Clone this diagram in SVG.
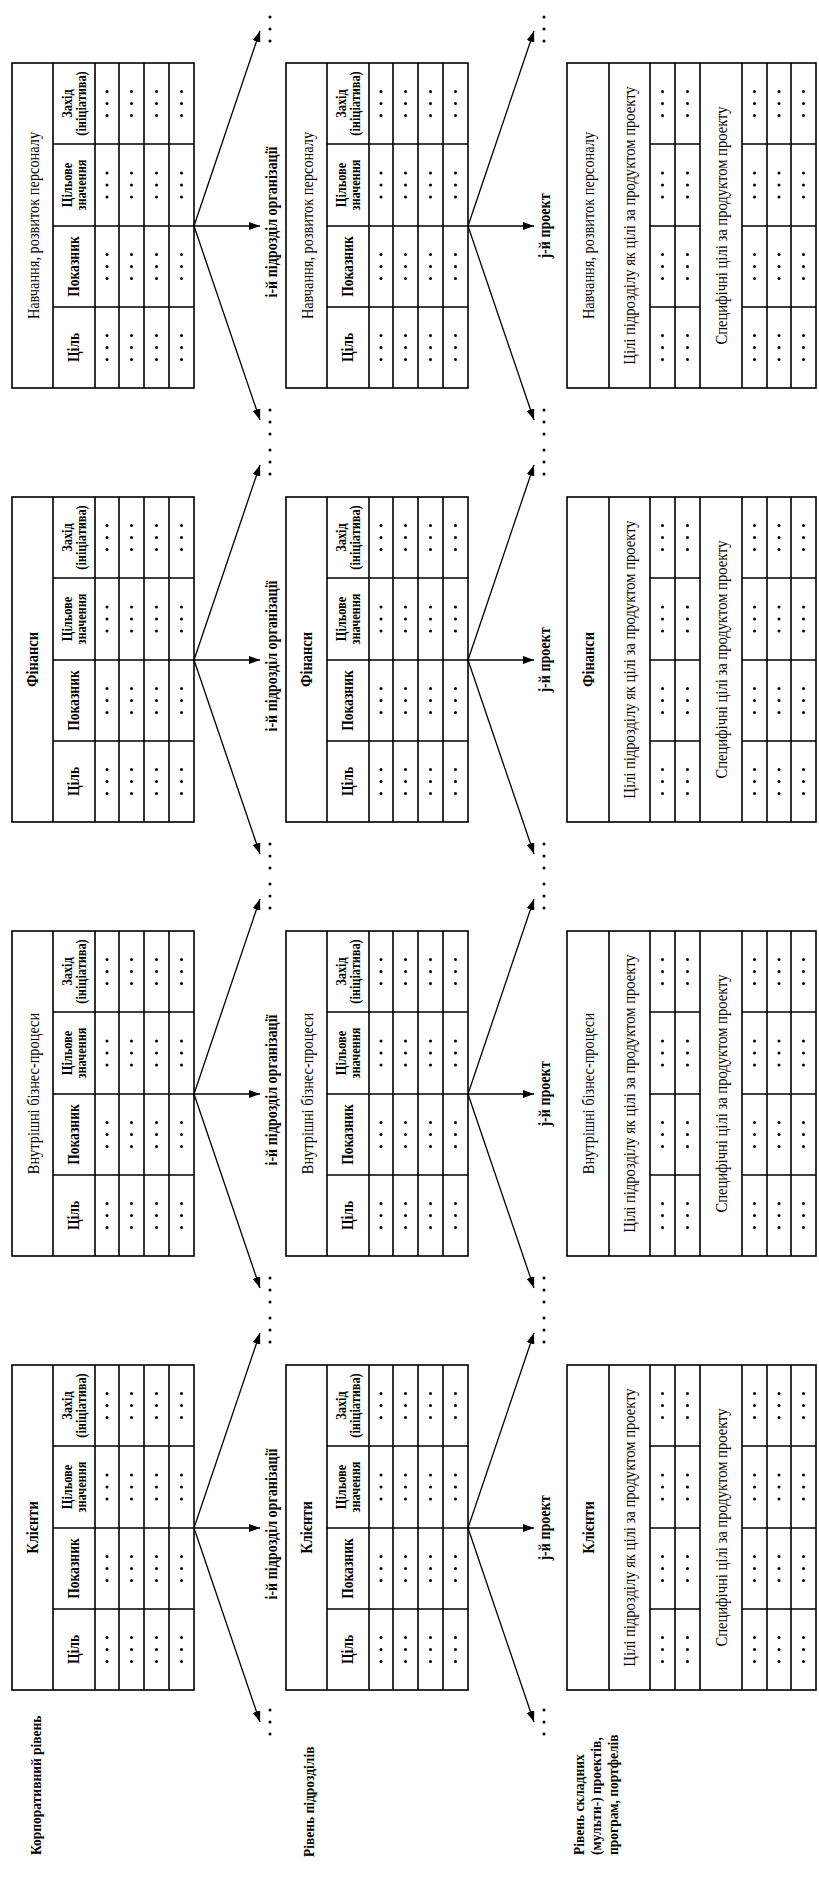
<svg xmlns="http://www.w3.org/2000/svg" xmlns:xlink="http://www.w3.org/1999/xlink" width="819" height="1877" viewBox="0 0 819 1877">
<style>
.g{fill:none;stroke:#000;stroke-width:1.6}
.t{font-family:"Liberation Serif","Times New Roman",serif;fill:#000;text-anchor:middle;dominant-baseline:central}
.hb{font-size:17px;font-weight:bold}
.hn{font-size:17.5px;font-weight:normal}
.c{font-size:16px;font-weight:bold}
.c2{font-size:15px;font-weight:bold}
.s{font-size:17px;font-weight:normal}
.l{font-size:16px;font-weight:bold}
.lv{font-family:"Liberation Serif","Times New Roman",serif;font-size:15px;font-weight:bold;fill:#000}
.a{fill:none;stroke:#000;stroke-width:1.3;marker-end:url(#ah)}
</style>
<defs>
<marker id="ah" markerUnits="userSpaceOnUse" markerWidth="11" markerHeight="8" refX="11" refY="4" orient="auto"><path d="M0,0L11,4L0,8z" fill="#000"/></marker>
<g id="d3"><circle cy="-12" r="1.5"/><circle r="1.5"/><circle cy="12" r="1.5"/></g>
<g id="gA">
<rect x="0" y="0" width="182" height="325" class="g" stroke-width="2"/>
<path class="g" d="M41,0V325M83,0V325M107,0V325M132,0V325M157,0V325M41,81H182M41,163H182M41,244H182"/>
<use href="#d3" x="95" y="40.5"/><use href="#d3" x="95" y="122"/><use href="#d3" x="95" y="203.5"/><use href="#d3" x="95" y="284.5"/>
<use href="#d3" x="119.5" y="40.5"/><use href="#d3" x="119.5" y="122"/><use href="#d3" x="119.5" y="203.5"/><use href="#d3" x="119.5" y="284.5"/>
<use href="#d3" x="144.5" y="40.5"/><use href="#d3" x="144.5" y="122"/><use href="#d3" x="144.5" y="203.5"/><use href="#d3" x="144.5" y="284.5"/>
<use href="#d3" x="169.5" y="40.5"/><use href="#d3" x="169.5" y="122"/><use href="#d3" x="169.5" y="203.5"/><use href="#d3" x="169.5" y="284.5"/>
</g>
<g id="gB">
<rect x="0" y="0" width="249" height="325" class="g" stroke-width="2"/>
<path class="g" d="M42,0V325M83,0V325M108,0V325M133,0V325M175,0V325M200,0V325M224,0V325M83,81H133M83,163H133M83,244H133M175,81H249M175,163H249M175,244H249"/>
<use href="#d3" x="95.5" y="40.5"/><use href="#d3" x="95.5" y="122"/><use href="#d3" x="95.5" y="203.5"/><use href="#d3" x="95.5" y="284.5"/>
<use href="#d3" x="120.5" y="40.5"/><use href="#d3" x="120.5" y="122"/><use href="#d3" x="120.5" y="203.5"/><use href="#d3" x="120.5" y="284.5"/>
<use href="#d3" x="187.5" y="40.5"/><use href="#d3" x="187.5" y="122"/><use href="#d3" x="187.5" y="203.5"/><use href="#d3" x="187.5" y="284.5"/>
<use href="#d3" x="212" y="40.5"/><use href="#d3" x="212" y="122"/><use href="#d3" x="212" y="203.5"/><use href="#d3" x="212" y="284.5"/>
<use href="#d3" x="236.5" y="40.5"/><use href="#d3" x="236.5" y="122"/><use href="#d3" x="236.5" y="203.5"/><use href="#d3" x="236.5" y="284.5"/>
</g>
</defs>
<rect width="819" height="1877" fill="#fff"/>

<!-- Level labels -->
<g id="level-labels">
<text class="lv" transform="translate(41,1855) rotate(-90) scale(0.9,1)">Корпоративний рівень</text>
<text class="lv" transform="translate(314,1857) rotate(-90) scale(0.9,1)">Рівень підрозділів</text>
<text class="lv" transform="translate(584,1855) rotate(-90) scale(0.9,1)"><tspan x="0" y="0">Рівень складних</tspan><tspan x="0" y="17">(мульти-) проектів,</tspan><tspan x="0" y="34">програм, портфелів</tspan></text>
</g>

<!-- Connectors -->
<g id="connectors">
<line class="a" x1="194" y1="226" x2="260" y2="31"/><line class="a" x1="194" y1="226" x2="260" y2="226"/><line class="a" x1="194" y1="226" x2="260" y2="420"/>
<line class="a" x1="194" y1="660" x2="260" y2="465"/><line class="a" x1="194" y1="660" x2="260" y2="660"/><line class="a" x1="194" y1="660" x2="260" y2="854"/>
<line class="a" x1="194" y1="1094" x2="260" y2="899"/><line class="a" x1="194" y1="1094" x2="260" y2="1094"/><line class="a" x1="194" y1="1094" x2="260" y2="1288"/>
<line class="a" x1="194" y1="1528" x2="260" y2="1333"/><line class="a" x1="194" y1="1528" x2="260" y2="1528"/><line class="a" x1="194" y1="1528" x2="260" y2="1722"/>
<line class="a" x1="468" y1="226" x2="534" y2="31"/><line class="a" x1="468" y1="226" x2="534" y2="226"/><line class="a" x1="468" y1="226" x2="534" y2="420"/>
<line class="a" x1="468" y1="660" x2="534" y2="465"/><line class="a" x1="468" y1="660" x2="534" y2="660"/><line class="a" x1="468" y1="660" x2="534" y2="854"/>
<line class="a" x1="468" y1="1094" x2="534" y2="899"/><line class="a" x1="468" y1="1094" x2="534" y2="1094"/><line class="a" x1="468" y1="1094" x2="534" y2="1288"/>
<line class="a" x1="468" y1="1528" x2="534" y2="1333"/><line class="a" x1="468" y1="1528" x2="534" y2="1528"/><line class="a" x1="468" y1="1528" x2="534" y2="1722"/>
<use href="#d3" x="270" y="29"/><use href="#d3" x="270" y="422"/><use href="#d3" x="270" y="462"/><use href="#d3" x="270" y="856"/><use href="#d3" x="270" y="896"/><use href="#d3" x="270" y="1290"/><use href="#d3" x="270" y="1330"/><use href="#d3" x="270" y="1722"/>
<use href="#d3" x="544" y="29"/><use href="#d3" x="544" y="422"/><use href="#d3" x="544" y="462"/><use href="#d3" x="544" y="856"/><use href="#d3" x="544" y="896"/><use href="#d3" x="544" y="1290"/><use href="#d3" x="544" y="1330"/><use href="#d3" x="544" y="1722"/>
<text class="t l" transform="translate(272,222) rotate(-90) scale(0.88,1)">і-й підрозділ організації</text>
<text class="t l" transform="translate(272,656) rotate(-90) scale(0.88,1)">і-й підрозділ організації</text>
<text class="t l" transform="translate(272,1090) rotate(-90) scale(0.88,1)">і-й підрозділ організації</text>
<text class="t l" transform="translate(272,1524) rotate(-90) scale(0.88,1)">і-й підрозділ організації</text>
<text class="t l" transform="translate(545,226) rotate(-90) scale(0.88,1)">j-й проект</text>
<text class="t l" transform="translate(545,660) rotate(-90) scale(0.88,1)">j-й проект</text>
<text class="t l" transform="translate(545,1094) rotate(-90) scale(0.88,1)">j-й проект</text>
<text class="t l" transform="translate(545,1528) rotate(-90) scale(0.88,1)">j-й проект</text>
</g>

<!-- Corporate level tables -->
<g id="corp-navchannia" transform="translate(12,63)"><use href="#gA"/>
<text class="t hn" transform="translate(20.5,162.5) rotate(-90) scale(0.82,1)">Навчання, розвиток персоналу</text>
<text class="t c" transform="translate(62,284.5) rotate(-90) scale(0.85,1)">Ціль</text>
<text class="t c" transform="translate(62,203.5) rotate(-90) scale(0.85,1)">Показник</text>
<text class="t c2" transform="translate(62,122) rotate(-90) scale(0.82,1)"><tspan x="0" y="-7">Цільове</tspan><tspan x="0" y="7">значення</tspan></text>
<text class="t c2" transform="translate(62,40.5) rotate(-90) scale(0.82,1)"><tspan x="0" y="-7">Захід</tspan><tspan x="0" y="7">(ініціатива)</tspan></text>
</g>
<g id="corp-finansy" transform="translate(12,497)"><use href="#gA"/>
<text class="t hb" transform="translate(20.5,162.5) rotate(-90) scale(0.85,1)">Фінанси</text>
<text class="t c" transform="translate(62,284.5) rotate(-90) scale(0.85,1)">Ціль</text>
<text class="t c" transform="translate(62,203.5) rotate(-90) scale(0.85,1)">Показник</text>
<text class="t c2" transform="translate(62,122) rotate(-90) scale(0.82,1)"><tspan x="0" y="-7">Цільове</tspan><tspan x="0" y="7">значення</tspan></text>
<text class="t c2" transform="translate(62,40.5) rotate(-90) scale(0.82,1)"><tspan x="0" y="-7">Захід</tspan><tspan x="0" y="7">(ініціатива)</tspan></text>
</g>
<g id="corp-procesy" transform="translate(12,931)"><use href="#gA"/>
<text class="t hn" transform="translate(20.5,162.5) rotate(-90) scale(0.82,1)">Внутрішні бізнес-процеси</text>
<text class="t c" transform="translate(62,284.5) rotate(-90) scale(0.85,1)">Ціль</text>
<text class="t c" transform="translate(62,203.5) rotate(-90) scale(0.85,1)">Показник</text>
<text class="t c2" transform="translate(62,122) rotate(-90) scale(0.82,1)"><tspan x="0" y="-7">Цільове</tspan><tspan x="0" y="7">значення</tspan></text>
<text class="t c2" transform="translate(62,40.5) rotate(-90) scale(0.82,1)"><tspan x="0" y="-7">Захід</tspan><tspan x="0" y="7">(ініціатива)</tspan></text>
</g>
<g id="corp-klienty" transform="translate(12,1365)"><use href="#gA"/>
<text class="t hb" transform="translate(20.5,162.5) rotate(-90) scale(0.85,1)">Клієнти</text>
<text class="t c" transform="translate(62,284.5) rotate(-90) scale(0.85,1)">Ціль</text>
<text class="t c" transform="translate(62,203.5) rotate(-90) scale(0.85,1)">Показник</text>
<text class="t c2" transform="translate(62,122) rotate(-90) scale(0.82,1)"><tspan x="0" y="-7">Цільове</tspan><tspan x="0" y="7">значення</tspan></text>
<text class="t c2" transform="translate(62,40.5) rotate(-90) scale(0.82,1)"><tspan x="0" y="-7">Захід</tspan><tspan x="0" y="7">(ініціатива)</tspan></text>
</g>

<!-- Subdivision level tables -->
<g id="sub-navchannia" transform="translate(286,63)"><use href="#gA"/>
<text class="t hn" transform="translate(20.5,162.5) rotate(-90) scale(0.82,1)">Навчання, розвиток персоналу</text>
<text class="t c" transform="translate(62,284.5) rotate(-90) scale(0.85,1)">Ціль</text>
<text class="t c" transform="translate(62,203.5) rotate(-90) scale(0.85,1)">Показник</text>
<text class="t c2" transform="translate(62,122) rotate(-90) scale(0.82,1)"><tspan x="0" y="-7">Цільове</tspan><tspan x="0" y="7">значення</tspan></text>
<text class="t c2" transform="translate(62,40.5) rotate(-90) scale(0.82,1)"><tspan x="0" y="-7">Захід</tspan><tspan x="0" y="7">(ініціатива)</tspan></text>
</g>
<g id="sub-finansy" transform="translate(286,497)"><use href="#gA"/>
<text class="t hb" transform="translate(20.5,162.5) rotate(-90) scale(0.85,1)">Фінанси</text>
<text class="t c" transform="translate(62,284.5) rotate(-90) scale(0.85,1)">Ціль</text>
<text class="t c" transform="translate(62,203.5) rotate(-90) scale(0.85,1)">Показник</text>
<text class="t c2" transform="translate(62,122) rotate(-90) scale(0.82,1)"><tspan x="0" y="-7">Цільове</tspan><tspan x="0" y="7">значення</tspan></text>
<text class="t c2" transform="translate(62,40.5) rotate(-90) scale(0.82,1)"><tspan x="0" y="-7">Захід</tspan><tspan x="0" y="7">(ініціатива)</tspan></text>
</g>
<g id="sub-procesy" transform="translate(286,931)"><use href="#gA"/>
<text class="t hn" transform="translate(20.5,162.5) rotate(-90) scale(0.82,1)">Внутрішні бізнес-процеси</text>
<text class="t c" transform="translate(62,284.5) rotate(-90) scale(0.85,1)">Ціль</text>
<text class="t c" transform="translate(62,203.5) rotate(-90) scale(0.85,1)">Показник</text>
<text class="t c2" transform="translate(62,122) rotate(-90) scale(0.82,1)"><tspan x="0" y="-7">Цільове</tspan><tspan x="0" y="7">значення</tspan></text>
<text class="t c2" transform="translate(62,40.5) rotate(-90) scale(0.82,1)"><tspan x="0" y="-7">Захід</tspan><tspan x="0" y="7">(ініціатива)</tspan></text>
</g>
<g id="sub-klienty" transform="translate(286,1365)"><use href="#gA"/>
<text class="t hb" transform="translate(20.5,162.5) rotate(-90) scale(0.85,1)">Клієнти</text>
<text class="t c" transform="translate(62,284.5) rotate(-90) scale(0.85,1)">Ціль</text>
<text class="t c" transform="translate(62,203.5) rotate(-90) scale(0.85,1)">Показник</text>
<text class="t c2" transform="translate(62,122) rotate(-90) scale(0.82,1)"><tspan x="0" y="-7">Цільове</tspan><tspan x="0" y="7">значення</tspan></text>
<text class="t c2" transform="translate(62,40.5) rotate(-90) scale(0.82,1)"><tspan x="0" y="-7">Захід</tspan><tspan x="0" y="7">(ініціатива)</tspan></text>
</g>

<!-- Project level tables -->
<g id="proj-navchannia" transform="translate(567,63)"><use href="#gB"/>
<text class="t hn" transform="translate(21,162.5) rotate(-90) scale(0.82,1)">Навчання, розвиток персоналу</text>
<text class="t s" transform="translate(62.5,162.5) rotate(-90) scale(0.86,1)">Цілі підрозділу як цілі за продуктом проекту</text>
<text class="t s" transform="translate(154,162.5) rotate(-90) scale(0.86,1)">Специфічні цілі за продуктом проекту</text>
</g>
<g id="proj-finansy" transform="translate(567,497)"><use href="#gB"/>
<text class="t hb" transform="translate(21,162.5) rotate(-90) scale(0.85,1)">Фінанси</text>
<text class="t s" transform="translate(62.5,162.5) rotate(-90) scale(0.86,1)">Цілі підрозділу як цілі за продуктом проекту</text>
<text class="t s" transform="translate(154,162.5) rotate(-90) scale(0.86,1)">Специфічні цілі за продуктом проекту</text>
</g>
<g id="proj-procesy" transform="translate(567,931)"><use href="#gB"/>
<text class="t hn" transform="translate(21,162.5) rotate(-90) scale(0.82,1)">Внутрішні бізнес-процеси</text>
<text class="t s" transform="translate(62.5,162.5) rotate(-90) scale(0.86,1)">Цілі підрозділу як цілі за продуктом проекту</text>
<text class="t s" transform="translate(154,162.5) rotate(-90) scale(0.86,1)">Специфічні цілі за продуктом проекту</text>
</g>
<g id="proj-klienty" transform="translate(567,1365)"><use href="#gB"/>
<text class="t hb" transform="translate(21,162.5) rotate(-90) scale(0.85,1)">Клієнти</text>
<text class="t s" transform="translate(62.5,162.5) rotate(-90) scale(0.86,1)">Цілі підрозділу як цілі за продуктом проекту</text>
<text class="t s" transform="translate(154,162.5) rotate(-90) scale(0.86,1)">Специфічні цілі за продуктом проекту</text>
</g>
</svg>
